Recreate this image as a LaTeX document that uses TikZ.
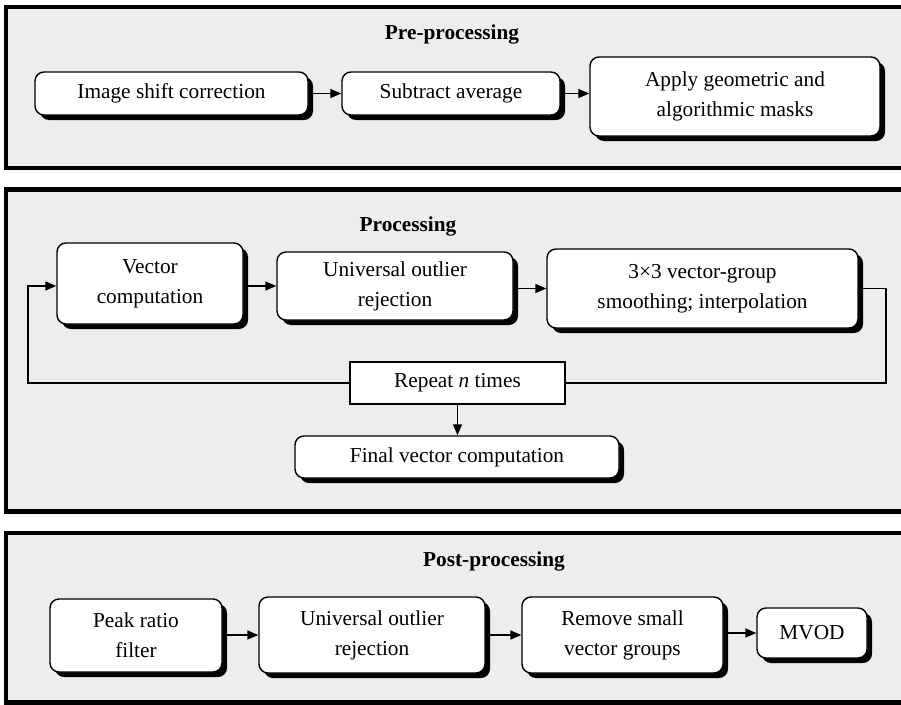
\documentclass[tikz,border=0pt]{standalone}
\usepackage{fontspec}
\setmainfont{Liberation Serif}
\usetikzlibrary{arrows.meta,shadows,calc}
\definecolor{panelgrey}{RGB}{237,237,237}
\begin{document}
\begin{tikzpicture}[x=1pt,y=-1pt,
  panel/.style={draw=black,line width=4.5pt,fill=panelgrey},
  ptitle/.style={anchor=base,inner sep=0pt,font=\fontsize{21.3}{30}\selectfont\bfseries},
  box/.style={draw=black,line width=1.4pt,fill=white,rounded corners=9pt,align=center,inner sep=0pt,
    font=\fontsize{21.3}{30}\selectfont,
    drop shadow={shadow xshift=5pt,shadow yshift=-5pt,fill=black,opacity=1}},
  plainbox/.style={draw=black,line width=1.2pt,fill=white,align=center,inner sep=0pt,
    font=\fontsize{21.3}{30}\selectfont},
  conn/.style={line width=1.5pt,-{Triangle[length=11pt,width=9pt]}},
  line/.style={line width=1.5pt}]
\clip (0,0) rectangle (901,704);
% panels
\draw[panel] (6,7) rectangle (915,168);
\draw[panel] (6,189.5) rectangle (915,511.5);
\draw[panel] (6,533) rectangle (915,702.5);
% titles
\node[ptitle] (t1) at (452,39) {Pre-processing};
\node[ptitle] (t2) at (408,231.5) {Processing};
\node[ptitle] (t3) at (494,566.5) {Post-processing};
% pre-processing
\node[box,minimum width=273pt,minimum height=43pt] (a1) at (171.5,93.5) {Image shift correction};
\node[box,minimum width=218pt,minimum height=43pt] (a2) at (451,93.5) {Subtract average};
\node[box,minimum width=290pt,minimum height=79pt] (a3) at (735,96.5) {Apply geometric and\\algorithmic masks};
\draw[conn] (a1.east) -- (a2.west);
\draw[conn] (a2.east) -- (a2.east -| a3.west);
% processing
\node[box,minimum width=186pt,minimum height=81pt] (v) at (150,283.5) {Vector\\computation};
\node[box,minimum width=236pt,minimum height=68pt] (u) at (395,286) {Universal outlier\\rejection};
\node[box,minimum width=311pt,minimum height=79pt] (s) at (702.5,288.5) {3×3 vector-group\\smoothing; interpolation};
\node[plainbox,minimum width=215pt,minimum height=42pt] (r) at (457.5,383) {Repeat \textit{n} times};
\node[box,minimum width=324pt,minimum height=42pt] (f) at (457,457) {Final vector computation};
\coordinate (lx) at (28,0);
\coordinate (rx) at (886,0);
\draw[conn] (u.west -| v.east) -- (u.west);
\draw[conn] (s.west -| u.east) -- (s.west);
\draw[line] (s.east) -| (rx |- r.east) -- (r.east);
\draw[conn] (r.west) -| (lx |- u.west) -- (u.west -| v.west);
\draw[conn] (r.south) -- (r.south |- f.north);
% post-processing
\node[box,minimum width=172pt,minimum height=73pt] (p1) at (136,635.5) {Peak ratio\\filter};
\node[box,minimum width=226pt,minimum height=76pt] (p2) at (372,635) {Universal outlier\\rejection};
\node[box,minimum width=201pt,minimum height=76pt] (p3) at (622.5,635) {Remove small\\vector groups};
\node[box,minimum width=110pt,minimum height=50pt] (p4) at (812,633) {MVOD};
\draw[conn] (p2.west -| p1.east) -- (p2.west);
\draw[conn] (p2.east) -- (p3.west);
\draw[conn] (p4.west -| p3.east) -- (p4.west);
\end{tikzpicture}
\end{document}
